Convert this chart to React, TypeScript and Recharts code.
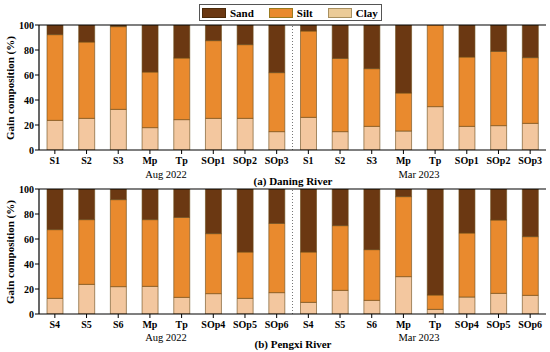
import { BarChart, Bar, XAxis, YAxis, ReferenceLine } from "recharts";

// sites (Aug 2022 then Mar 2023), keys are made unique with a prefix
const sitesA = ["S1", "S2", "S3", "Mp", "Tp", "SOp1", "SOp2", "SOp3"];
const sitesB = ["S4", "S5", "S6", "Mp", "Tp", "SOp4", "SOp5", "SOp6"];

// (a) Daning River, % composition
const clayA = [23.7, 25.3, 32.5, 17.9, 24.3, 25.3, 25.3, 14.7, 26.1, 14.7, 18.9, 15.2, 34.7, 18.9, 19.5, 21.3];
const siltA = [68.6, 61.1, 66.2, 44.5, 49.3, 62.2, 59.0, 47.2, 69.1, 58.6, 46.2, 30.4, 65.3, 55.5, 59.4, 52.6];
const sandA = [7.7, 13.6, 1.3, 37.6, 26.4, 12.5, 15.7, 38.1, 4.8, 26.7, 34.9, 54.4, 0.0, 25.6, 21.1, 26.1];

// (b) Pengxi River, % composition
const clayB = [12.5, 23.7, 21.9, 22.1, 13.3, 16.3, 12.5, 17.1, 9.3, 18.9, 10.9, 29.9, 3.7, 13.6, 16.5, 14.9];
const siltB = [55.0, 51.8, 69.6, 53.4, 64.0, 48.0, 37.1, 55.4, 40.3, 51.8, 40.6, 64.0, 11.5, 51.2, 58.7, 47.0];
const sandB = [32.5, 24.5, 8.5, 24.5, 22.7, 35.7, 50.4, 27.5, 50.4, 29.3, 48.5, 6.1, 84.8, 35.2, 24.8, 38.1];

const yTicks = [0, 20, 40, 60, 80, 100];

const SAND = "#6b3812";
const SILT = "#e98a2e";
const CLAY = "#f3c79f";
const EDGE = "#6a4a18";
const FONT = "'Liberation Serif', 'Times New Roman', serif";

function buildRows(sites: string[], clay: number[], silt: number[], sand: number[]) {
  const keys = [...sites.map((s) => "A|" + s), ...sites.map((s) => "M|" + s)];
  return keys.map((k, i) => ({ key: k, clay: clay[i], silt: silt[i], sand: sand[i] }));
}

const rowsA = buildRows(sitesA, clayA, siltA, sandA);
const rowsB = buildRows(sitesB, clayB, siltB, sandB);

const tickStyle = { fill: "#000", fontSize: 10, fontWeight: 700, fontFamily: FONT };

function LegendBox() {
  const items = [
    { name: "Sand", color: SAND, border: "#4a2a0a" },
    { name: "Silt", color: SILT, border: "#9a7a20" },
    { name: "Clay", color: "#ebcb98", border: "#a89060" },
  ];
  return (
    <div style={{
      position: "absolute", left: 199, top: 4,
      display: "flex", alignItems: "center", border: "1px solid #555", background: "#fff",
      width: 183, height: 17, padding: "0 0 0 2px", boxSizing: "border-box",
    }}>
      {items.map((it) => (
        <div key={it.name} style={{ display: "flex", alignItems: "center", marginRight: 15 }}>
          <span style={{ width: 24, height: 10, background: it.color, border: `1px solid ${it.border}`, boxSizing: "border-box", display: "inline-block" }} />
          <span style={{ marginLeft: 4, fontFamily: FONT, fontWeight: 700, fontSize: 11, color: "#000" }}>{it.name}</span>
        </div>
      ))}
    </div>
  );
}

function Panel({ rows, top }: { rows: any[]; top: number }) {
  return (
    <div style={{ position: "absolute", left: 0, top }}>
      <BarChart width={550} height={190} data={rows} barSize={16}
        margin={{ top: 25, right: 4, left: 9, bottom: 8 }}>
        <XAxis dataKey="key" interval={0} tickFormatter={(v: string) => v.split("|")[1]}
          tick={tickStyle} tickSize={4} tickMargin={3}
          axisLine={{ stroke: "#000", strokeWidth: 1.2 }} tickLine={{ stroke: "#000" }} height={32} />
        <YAxis domain={[0, 100]} ticks={yTicks} width={30} tick={tickStyle} tickSize={4} tickMargin={1}
          axisLine={{ stroke: "#000", strokeWidth: 1.2 }} tickLine={{ stroke: "#000" }} allowDataOverflow />
        <ReferenceLine y={100} stroke="#000" strokeWidth={1.2} />
        <ReferenceLine x={rows[8].key} position="start" stroke="#777" strokeDasharray="1 2" />
        <Bar dataKey="clay" name="Clay" stackId="s" fill={CLAY} stroke={EDGE} strokeWidth={0.6} isAnimationActive={false} />
        <Bar dataKey="silt" name="Silt" stackId="s" fill={SILT} stroke={EDGE} strokeWidth={0.6} isAnimationActive={false} />
        <Bar dataKey="sand" name="Sand" stackId="s" fill={SAND} stroke={EDGE} strokeWidth={0.6} isAnimationActive={false} />
      </BarChart>
    </div>
  );
}

const caption: React.CSSProperties = {
  position: "absolute", fontFamily: FONT, color: "#000", whiteSpace: "nowrap", lineHeight: 1,
  transform: "translate(-50%, -50%)",
};

export default function App() {
  return (
    <div style={{ position: "absolute", left: 0, top: 0, width: 550, height: 352, background: "#fff", overflow: "hidden" }}>
      <Panel rows={rowsA} top={0} />
      <Panel rows={rowsB} top={164} />
      <LegendBox />

      {[88, 252].map((y, i) => (
        <div key={i} style={{ ...caption, left: 10, top: y, fontSize: 11, fontWeight: 700, transform: "translate(-50%, -50%) rotate(-90deg)" }}>Gain composition (%)</div>
      ))}

      <div style={{ ...caption, left: 166, top: 175, fontSize: 10.5 }}>Aug 2022</div>
      <div style={{ ...caption, left: 419, top: 175, fontSize: 10.5 }}>Mar 2023</div>
      <div style={{ ...caption, left: 293, top: 181, fontSize: 11, fontWeight: 700 }}>(a) Daning River</div>

      <div style={{ ...caption, left: 166, top: 338, fontSize: 10.5 }}>Aug 2022</div>
      <div style={{ ...caption, left: 419, top: 338, fontSize: 10.5 }}>Mar 2023</div>
      <div style={{ ...caption, left: 293, top: 344, fontSize: 11, fontWeight: 700 }}>(b) Pengxi River</div>
    </div>
  );
}
